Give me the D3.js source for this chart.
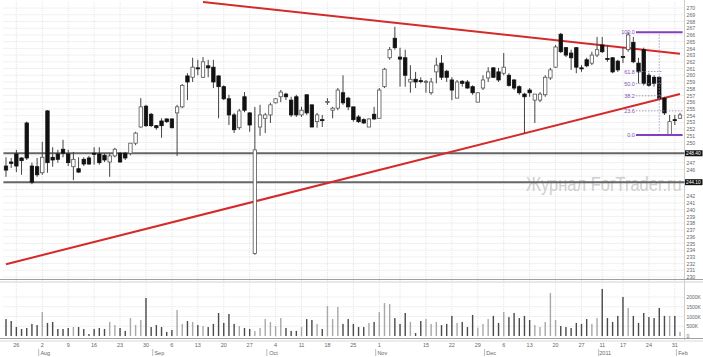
<!DOCTYPE html>
<html>
<head>
<meta charset="utf-8">
<script src="https://cdn.jsdelivr.net/npm/d3@7"></script>
<style>
  body { margin: 0; background: #fff; }
  svg { display: block; font-family: "Liberation Sans", Arial, sans-serif; }
</style>
</head>
<body>
<svg id="chart" width="703" height="357"></svg>
<script>
/*
Trading days (categories)
*/
const dates = [
  "2010-07-22","2010-07-23","2010-07-26","2010-07-27","2010-07-28","2010-07-29","2010-07-30",
  "2010-08-02","2010-08-03","2010-08-04","2010-08-05","2010-08-06","2010-08-09","2010-08-10","2010-08-11","2010-08-12","2010-08-13",
  "2010-08-16","2010-08-17","2010-08-18","2010-08-19","2010-08-20","2010-08-23","2010-08-24","2010-08-25","2010-08-26","2010-08-27","2010-08-30","2010-08-31",
  "2010-09-01","2010-09-02","2010-09-03","2010-09-06","2010-09-07","2010-09-08","2010-09-09","2010-09-10","2010-09-13","2010-09-14","2010-09-15","2010-09-16","2010-09-17",
  "2010-09-20","2010-09-21","2010-09-22","2010-09-23","2010-09-24","2010-09-27","2010-09-28","2010-09-29","2010-09-30",
  "2010-10-01","2010-10-04","2010-10-05","2010-10-06","2010-10-07","2010-10-08","2010-10-11","2010-10-12","2010-10-13","2010-10-14","2010-10-15",
  "2010-10-18","2010-10-19","2010-10-20","2010-10-21","2010-10-22","2010-10-25","2010-10-26","2010-10-27","2010-10-28","2010-10-29",
  "2010-11-01","2010-11-02","2010-11-03","2010-11-05","2010-11-08","2010-11-09","2010-11-10","2010-11-11","2010-11-12","2010-11-15","2010-11-16","2010-11-17","2010-11-18","2010-11-19",
  "2010-11-22","2010-11-23","2010-11-24","2010-11-25","2010-11-26","2010-11-29","2010-11-30",
  "2010-12-01","2010-12-02","2010-12-03","2010-12-06","2010-12-07","2010-12-08","2010-12-09","2010-12-10","2010-12-13","2010-12-14","2010-12-15","2010-12-16","2010-12-17",
  "2010-12-20","2010-12-21","2010-12-22","2010-12-23","2010-12-24","2010-12-27","2010-12-28","2010-12-29","2010-12-30",
  "2011-01-11","2011-01-12","2011-01-13","2011-01-14","2011-01-17","2011-01-18","2011-01-19","2011-01-20","2011-01-21",
  "2011-01-24","2011-01-25","2011-01-26","2011-01-27","2011-01-28","2011-01-31","2011-02-01"
];

/*
OHLC series
*/
const opens = [
  246.5,247.1,248.3,247.7,252.9,246.5,246.4,245.5,254.7,247.8,248.3,249.0,248.3,246.4,246.1,247.5,247.7,248.4,248.3,248.1,
  247.1,248.0,248.4,248.4,248.4,249.9,252.3,255.4,254.2,252.5,253.2,253.5,253.5,254.4,255.3,259.9,259.7,261.1,259.7,261.4,
  261.2,259.9,258.3,256.5,254.1,252.2,256.8,254.4,233.5,252.3,253.6,254.1,255.9,256.8,257.2,256.3,256.8,254.1,257.1,255.6,
  253.1,253.4,256.0,254.8,255.1,257.4,256.6,255.3,253.8,253.4,252.3,254.2,253.6,258.3,262.6,265.5,262.7,262.6,259.0,259.4,
  259.2,259.0,257.4,260.5,261.8,260.6,259.3,256.6,259.1,259.0,258.3,256.0,258.1,259.6,261.1,260.5,260.3,260.0,259.3,258.3,
  257.2,257.8,256.3,256.3,257.1,259.6,261.2,266.1,264.1,263.3,264.1,261.1,262.3,261.8,263.0,264.5,262.5,262.6,262.1,262.8,
  263.8,264.9,261.8,263.8,260.0,259.7,259.7,256.6,251.1,253.4,253.6
];
const highs = [
  247.8,247.7,248.9,247.8,253.1,247.0,247.7,250.1,254.8,249.3,248.9,250.4,248.9,248.6,247.8,247.8,248.0,249.3,249.3,248.4,
  248.4,249.2,248.6,248.6,249.9,251.6,256.6,255.6,254.4,252.6,253.6,253.6,253.6,255.6,258.7,260.3,262.6,262.3,262.7,262.3,
  262.3,260.0,258.5,257.1,254.4,255.0,257.5,254.5,255.3,255.6,254.4,255.9,256.6,257.8,257.4,256.8,257.1,255.3,257.1,255.6,
  254.4,254.1,256.6,255.3,258.1,260.0,256.8,255.3,254.1,253.6,253.6,255.3,258.1,261.1,264.2,267.2,264.1,263.8,261.5,260.5,
  259.7,259.3,259.6,262.6,263.0,260.8,259.7,259.3,259.3,259.3,258.5,257.5,260.0,261.2,261.2,261.1,263.3,260.3,259.4,258.5,
  257.4,258.1,257.2,257.5,260.0,261.1,264.5,266.3,264.2,263.8,264.2,261.5,262.6,263.5,265.7,265.7,264.5,262.7,262.3,264.2,
  266.4,265.7,262.6,264.1,260.3,260.0,259.9,256.8,254.1,254.1,254.4
];
const lows = [
  244.9,246.2,245.6,245.2,247.4,243.8,244.9,245.2,245.5,246.4,247.0,247.8,246.5,244.4,245.5,246.5,246.7,246.7,246.7,247.1,
  244.9,247.8,247.0,247.4,248.1,249.6,252.2,252.3,252.3,251.9,250.7,252.9,252.1,248.0,255.1,256.3,259.0,260.0,259.6,259.7,
  258.1,253.6,256.3,252.6,251.4,251.9,254.5,251.6,233.3,251.0,251.4,252.9,255.8,256.0,256.3,253.8,253.8,253.8,254.1,252.3,
  252.2,252.3,255.6,253.6,254.8,255.6,254.8,253.1,252.9,252.8,252.3,253.4,253.6,258.1,262.3,263.8,258.3,258.3,257.4,258.1,
  258.8,257.4,257.1,258.8,259.3,259.0,256.3,256.6,258.3,258.0,257.1,256.0,257.8,259.0,259.6,259.0,260.0,258.3,257.8,257.1,
  251.4,256.8,252.9,256.0,256.8,259.3,261.1,263.3,262.7,260.8,260.3,260.5,261.2,261.5,262.7,263.3,262.0,260.3,260.5,261.8,
  263.5,261.8,258.8,258.5,258.3,258.3,256.3,254.1,251.1,252.6,253.5
];
const closes = [
  245.9,246.9,246.5,247.3,247.7,244.1,245.2,247.8,247.0,247.4,247.5,248.4,247.0,247.5,245.6,246.8,246.8,248.3,247.0,247.4,
  248.0,249.0,247.1,247.7,249.9,251.4,255.3,252.5,252.5,252.2,252.5,253.1,252.2,255.3,258.5,259.0,261.2,261.0,262.0,261.1,
  259.0,258.3,256.5,254.1,251.9,254.7,254.8,252.6,248.9,254.1,254.1,255.6,256.5,257.5,256.8,254.1,254.1,254.8,254.4,252.3,
  254.1,253.3,256.1,255.1,257.8,255.9,255.3,253.4,253.1,252.9,253.5,253.5,257.8,260.9,263.8,264.1,262.4,260.0,259.4,259.0,
  259.1,259.1,259.0,261.5,259.7,259.7,257.8,259.0,258.8,258.1,257.4,257.4,259.3,260.5,259.7,259.3,261.2,258.5,258.1,257.4,
  256.8,257.4,257.2,257.2,259.7,260.8,264.2,263.5,263.0,262.6,261.2,261.0,261.4,263.0,263.8,263.5,262.4,260.5,260.8,262.7,
  266.0,262.0,260.5,258.8,258.5,258.8,256.6,254.4,253.1,253.3,254.1
];

/*
Volume, thousands
*/
const volumes = [
  870,770,460,360,410,620,560,1230,670,720,360,360,410,460,460,360,100,360,410,360,
  720,560,410,260,920,560,820,1950,460,560,460,210,310,1330,620,770,720,560,510,460,
  620,1180,670,1130,620,510,410,360,260,410,870,720,510,920,410,260,260,460,870,820,
  620,360,1540,870,1490,620,870,620,460,460,670,720,1230,1690,1640,920,620,1180,720,150,
  770,870,620,720,560,620,1030,670,720,460,1080,430,620,870,1030,670,1230,970,1180,920,
  1030,820,560,460,720,2210,820,510,460,410,670,620,870,620,920,2410,920,720,1030,2000,
  1440,1030,670,1180,970,920,1440,1030,1030,1030,210
];

/*
Axis ticks
*/
const priceTicks = [230,231,232,233,234,235,236,237,238,239,240,241,242,243,244,245,246,247,248,249,
  250,251,252,253,254,255,256,257,258,259,260,261,262,263,264,265,266,267,268,269,270];
const volTicks = [0, 500, 1000, 1500, 2000];
const weekTicks = ["2010-07-26","2010-08-02","2010-08-09","2010-08-16","2010-08-23","2010-08-30",
  "2010-09-06","2010-09-13","2010-09-20","2010-09-27","2010-10-04","2010-10-11","2010-10-18","2010-10-25",
  "2010-11-01","2010-11-08","2010-11-15","2010-11-22","2010-11-29","2010-12-06","2010-12-13","2010-12-20",
  "2010-12-27","2011-01-11","2011-01-17","2011-01-24","2011-01-31"];
const weekLabels = ["26","2","9","16","23","30","6","13","20","27","4","11","18","25",
  "1","","15","22","29","6","13","20","27","11","17","24","31"];
const monthStarts = ["2010-08-02","2010-09-01","2010-10-01","2010-11-01","2010-12-01","2011-01-11","2011-02-01"];
const monthLabels = ["Aug","Sep","Oct","Nov","Dec","2011","Feb"];

/*
Drawn tools: trend lines, levels, fibonacci
*/
const resistanceLine = [["2010-09-14", 270.9], ["2011-02-01", 263.2]];
const supportLine = [["2010-07-22", 231.9], ["2011-02-01", 257.2]];
const levels = [248.4, 244.1];
const fibHigh = 266.4;
const fibLow = 251.1;
const fibStart = "2011-01-20";
const fibMid = "2011-01-26";
const fibLevels = [100.0, 61.8, 50.0, 38.2, 23.6, 0.0];

const svg = d3.select("#chart");
const plotLeft = 3.4, plotRight = 682.6, plotTop = 2;
const axisX = 684.5;

const x = d3.scaleBand().domain(dates).range([plotLeft, plotRight]);
const bw = x.bandwidth();
const cx = (d) => x(d) + bw / 2;
const y = d3.scaleLinear().domain([230, 270]).range([277, 8]);
const yVol = d3.scaleLinear().domain([0, 2000]).range([336, 297]);

// grid
const grid = svg.append("g").attr("stroke", "#d9d9d9").attr("stroke-width", 0.7)
  .attr("stroke-dasharray", "1,1");
grid.selectAll("line.h").data(priceTicks).enter().append("line")
  .attr("x1", plotLeft).attr("x2", axisX)
  .attr("y1", (d) => y(d)).attr("y2", (d) => y(d));
grid.selectAll("line.v").data(weekTicks).enter().append("line")
  .attr("x1", (d) => cx(d)).attr("x2", (d) => cx(d))
  .attr("y1", plotTop).attr("y2", 338);
grid.selectAll("line.vh").data(volTicks.slice(1)).enter().append("line")
  .attr("x1", plotLeft).attr("x2", axisX)
  .attr("y1", (d) => yVol(d)).attr("y2", (d) => yVol(d));

// panel frames
const frame = svg.append("g").attr("fill", "none");
frame.append("line").attr("x1", axisX).attr("x2", axisX).attr("y1", 0).attr("y2", 340)
  .attr("stroke", "#cfcfcf");
[[279.5, "#a0a0a0"], [282, "#d0d0d0"], [338.5, "#a0a0a0"], [341, "#d8d8d8"]].forEach(([yy, c]) => {
  frame.append("line").attr("x1", 0).attr("x2", 703).attr("y1", yy).attr("y2", yy)
    .attr("stroke", c).attr("stroke-width", 1);
});

// watermark (narrow font size, stretched upward to the reference height)
svg.append("text")
  .attr("transform", "translate(526,191) scale(1,1.18)")
  .attr("font-size", 16.5)
  .attr("fill", "#cfcfcf")
  .text("Журнал ForTrader.ru");

// horizontal levels
svg.append("g").selectAll("line").data(levels).enter().append("line")
  .attr("x1", plotLeft).attr("x2", axisX)
  .attr("y1", (d) => y(d)).attr("y2", (d) => y(d))
  .attr("stroke", "#666").attr("stroke-width", 2);

// trend lines
const trendLine = d3.line().x((d) => cx(d[0])).y((d) => y(d[1]));
svg.append("g").selectAll("path").data([resistanceLine, supportLine]).enter().append("path")
  .attr("d", trendLine)
  .attr("fill", "none")
  .attr("stroke", "#d42a2a")
  .attr("stroke-width", 2);

// candles
const candles = svg.append("g").selectAll("g").data(dates).enter().append("g");
candles.append("line")
  .attr("x1", (d) => cx(d)).attr("x2", (d) => cx(d))
  .attr("y1", (d, i) => y(highs[i])).attr("y2", (d, i) => y(lows[i]))
  .attr("stroke", "#444").attr("stroke-width", 1);
candles.append("rect")
  .attr("x", (d) => cx(d) - 1.7)
  .attr("width", 3.4)
  .attr("y", (d, i) => y(Math.max(opens[i], closes[i])))
  .attr("height", (d, i) => Math.max(1, Math.abs(y(opens[i]) - y(closes[i]))))
  .attr("fill", (d, i) => (closes[i] >= opens[i] ? "#fff" : "#111"))
  .attr("stroke", (d, i) => (closes[i] >= opens[i] ? "#555" : "#111"))
  .attr("stroke-width", 0.8);

// volume
svg.append("g").selectAll("rect").data(dates).enter().append("rect")
  .attr("x", (d) => cx(d) - 0.7)
  .attr("width", 1.4)
  .attr("y", (d, i) => yVol(volumes[i]))
  .attr("height", (d, i) => yVol(0) - yVol(volumes[i]))
  .attr("fill", (d, i) => (closes[i] >= opens[i] ? "#a8a8a8" : "#4a4a4a"));

// fibonacci
const fibY = (lv) => y(fibLow + (fibHigh - fibLow) * lv / 100);
const fib = svg.append("g");
fib.selectAll("line").data(fibLevels).enter().append("line")
  .attr("x1", x(fibStart))
  .attr("x2", (d) => (d === 100 || d === 0 || d === 23.6 ? plotRight : cx(fibMid) + 3))
  .attr("y1", fibY).attr("y2", fibY)
  .attr("stroke", (d) => (d === 100 || d === 0 ? "#8040c0" : "#8c80a8"))
  .attr("stroke-width", (d) => (d === 100 || d === 0 ? 2 : 0.8))
  .attr("stroke-dasharray", (d) => (d === 100 || d === 0 ? null : "1.5,1.5"));
fib.append("line")
  .attr("x1", cx(fibMid)).attr("x2", cx(fibMid))
  .attr("y1", fibY(100) + 2).attr("y2", fibY(0) - 2)
  .attr("stroke", "#9a90b8").attr("stroke-width", 0.8).attr("stroke-dasharray", "1.5,1.5");
fib.selectAll("text").data(fibLevels).enter().append("text")
  .attr("x", x(fibStart) - 1)
  .attr("y", (d) => fibY(d) + 2)
  .attr("text-anchor", "end")
  .attr("font-size", 5.5)
  .attr("fill", "#8050b8")
  .text((d) => d.toFixed(1));

// price axis (labels under the level tags are left out)
const freeTicks = priceTicks.filter((t) => levels.every((l) => Math.abs(y(t) - y(l)) > 8));
const yAxis = svg.append("g")
  .attr("transform", "translate(" + axisX + ",0)")
  .call(d3.axisRight(y).tickValues(freeTicks).tickSize(0).tickPadding(2).tickFormat(d3.format("d")));
yAxis.select(".domain").remove();
yAxis.selectAll("text").attr("font-size", 5.2).attr("fill", "#666");

// level tags
const tags = svg.append("g").selectAll("g").data(levels).enter().append("g");
tags.append("rect")
  .attr("x", 685).attr("width", 17.5)
  .attr("y", (d) => y(d) - 3).attr("height", 6)
  .attr("fill", "#111");
tags.append("text")
  .attr("x", 686).attr("y", (d) => y(d) + 1.7)
  .attr("font-size", 4.8).attr("fill", "#fff")
  .text((d) => d.toFixed(2));

// volume axis
const vAxis = svg.append("g")
  .attr("transform", "translate(" + axisX + ",0)")
  .call(d3.axisRight(yVol).tickValues(volTicks).tickSize(0).tickPadding(2)
    .tickFormat((d) => (d === 0 ? "0" : d + "K")));
vAxis.select(".domain").remove();
vAxis.selectAll("text").attr("font-size", 5).attr("fill", "#666");

// date axis
const xAxis = svg.append("g");
xAxis.selectAll("text").data(weekTicks).enter().append("text")
  .attr("x", (d) => cx(d)).attr("y", 346.5)
  .attr("text-anchor", "middle")
  .attr("font-size", 5.5).attr("fill", "#666")
  .text((d, i) => weekLabels[i]);
const months = svg.append("g").selectAll("g").data(monthStarts).enter().append("g");
months.append("line")
  .attr("x1", (d) => x(d) - 1).attr("x2", (d) => x(d) - 1)
  .attr("y1", 349).attr("y2", 356)
  .attr("stroke", "#bbb");
months.append("text")
  .attr("x", (d) => cx(d) + 3).attr("y", 355)
  .attr("text-anchor", "middle")
  .attr("font-size", 5.5).attr("fill", "#666")
  .text((d, i) => monthLabels[i]);
</script>
</body>
</html>
